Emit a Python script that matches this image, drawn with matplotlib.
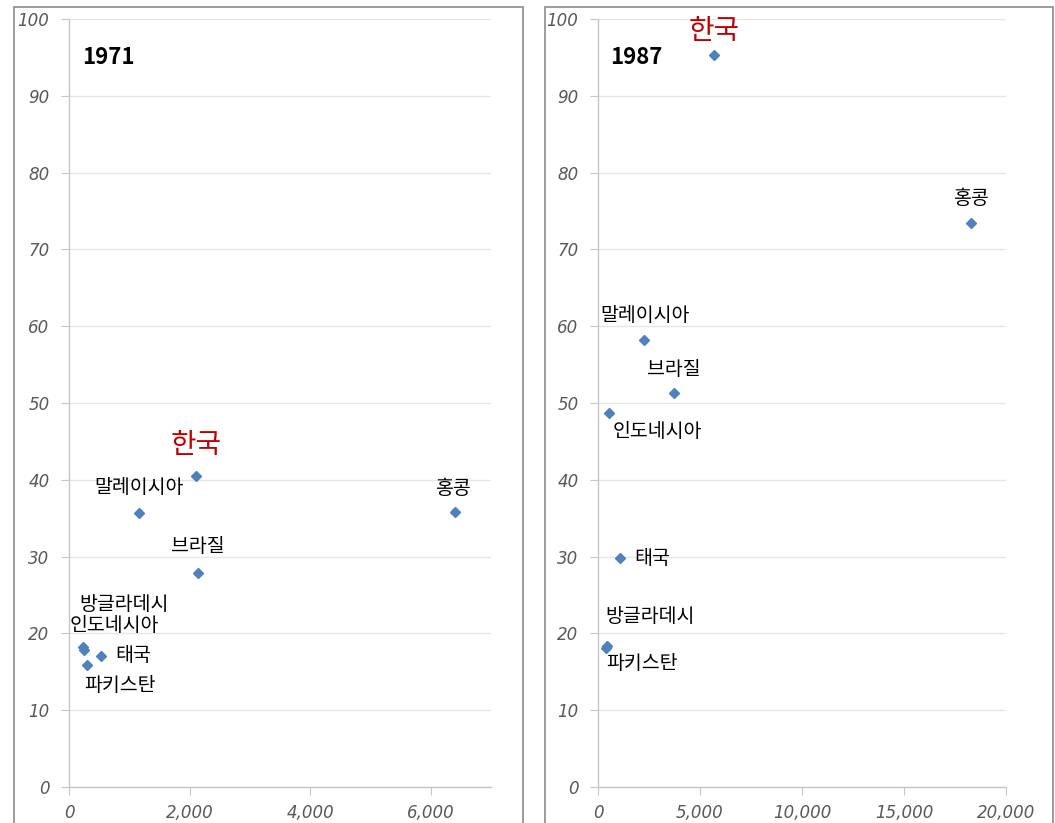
import matplotlib
matplotlib.use("Agg")
import matplotlib.pyplot as plt
from matplotlib.patches import Rectangle

plt.rcParams['font.family'] = ['Noto Sans CJK KR', 'DejaVu Sans']

# data
countries = ['한국', '말레이시아', '홍콩', '브라질', '방글라데시', '인도네시아', '태국', '파키스탄']
x_1971 = [2110, 1160, 6400, 2140, 240, 250, 530, 300]
y_1971 = [40.5, 35.7, 35.8, 27.9, 18.2, 17.9, 17.1, 15.9]
x_1987 = [5690, 2250, 18280, 3720, 420, 540, 1080, 380]
y_1987 = [95.3, 58.2, 73.4, 51.3, 18.4, 48.7, 29.8, 18.1]

xticks_1971 = [0, 2000, 4000, 6000]
xticks_1987 = [0, 5000, 10000, 15000, 20000]
yticks = [0, 10, 20, 30, 40, 50, 60, 70, 80, 90, 100]

# label offsets in pixels (dx, dy, ha)
offs_1971 = {'한국': (0, 31, 'center'), '말레이시아': (0, 25, 'center'),
             '홍콩': (-2, 24, 'center'), '브라질': (0, 26, 'center'),
             '방글라데시': (41, 43, 'center'), '인도네시아': (30, 24, 'center'),
             '태국': (14, 0, 'left'), '파키스탄': (33, -21, 'center')}
offs_1987 = {'한국': (0, 24, 'center'), '말레이시아': (1, 25, 'center'),
             '홍콩': (0, 25, 'center'), '브라질': (0, 24, 'center'),
             '방글라데시': (43, 29, 'center'), '인도네시아': (48, -19, 'center'),
             '태국': (14, 0, 'left'), '파키스탄': (36, -16, 'center')}

W, H = 1055, 823
fig = plt.figure(figsize=(W / 100, H / 100), dpi=100)
fig.patch.set_facecolor('white')


def fbox(x0, y0, x1, y1):
    # pixel box (top-left origin) -> figure fraction rect
    return [x0 / W, 1 - y1 / H, (x1 - x0) / W, (y1 - y0) / H]


# panel frames
for x0, x1 in [(14, 523), (545, 1053)]:
    fig.patches.append(Rectangle((x0 / W, -0.05), (x1 - x0) / W, 1.05 - 7 / H,
                                 transform=fig.transFigure, fill=False,
                                 edgecolor='#8c8c8c', linewidth=1.2))


def panel(rect, xs, ys, xmax, xticks, year, offs):
    ax = fig.add_axes(rect)
    ax.set_xlim(0, xmax)
    ax.set_ylim(0, 100)
    ax.set_facecolor('none')
    for s in ['top', 'right']:
        ax.spines[s].set_visible(False)
    for s in ['left', 'bottom']:
        ax.spines[s].set_color('#c6c6c6')
        ax.spines[s].set_linewidth(1.0)
    ax.set_yticks(yticks)
    ax.set_xticks(xticks)
    ax.set_xticklabels([f'{t:,}' for t in xticks])
    ax.tick_params(axis='both', colors='#c6c6c6', labelcolor='#595959',
                   labelsize=12, length=6, direction='out')
    ax.tick_params(axis='x', pad=6)
    ax.tick_params(axis='y', pad=8)
    for lab in ax.get_xticklabels() + ax.get_yticklabels():
        lab.set_fontstyle('italic')
        lab.set_family(['DejaVu Sans'])
    ax.yaxis.grid(True, color='#e6e6e6', linewidth=1.0)
    ax.set_axisbelow(True)
    ax.plot(xs, ys, linestyle='none', marker='D', markersize=5.5,
            color='#4f81bd', clip_on=False, zorder=3)
    for name, x, y in zip(countries, xs, ys):
        dx, dy, ha = offs[name]
        red = name == '한국'
        ax.annotate(name, (x, y), xytext=(dx, dy), textcoords='offset pixels',
                    ha=ha, va='center', fontsize=20 if red else 14,
                    color='#c00000' if red else 'black', zorder=4)
    ax.text(0.03, 0.95, year, transform=ax.transAxes, fontsize=16,
            fontweight='bold', color='black', ha='left', va='center')
    return ax


panel(fbox(69, 19, 491, 787), x_1971, y_1971, 7000, xticks_1971, '1971', offs_1971)
panel(fbox(598, 19, 1006, 787), x_1987, y_1987, 20000, xticks_1987, '1987', offs_1987)

fig.savefig('out.png', dpi=100)
